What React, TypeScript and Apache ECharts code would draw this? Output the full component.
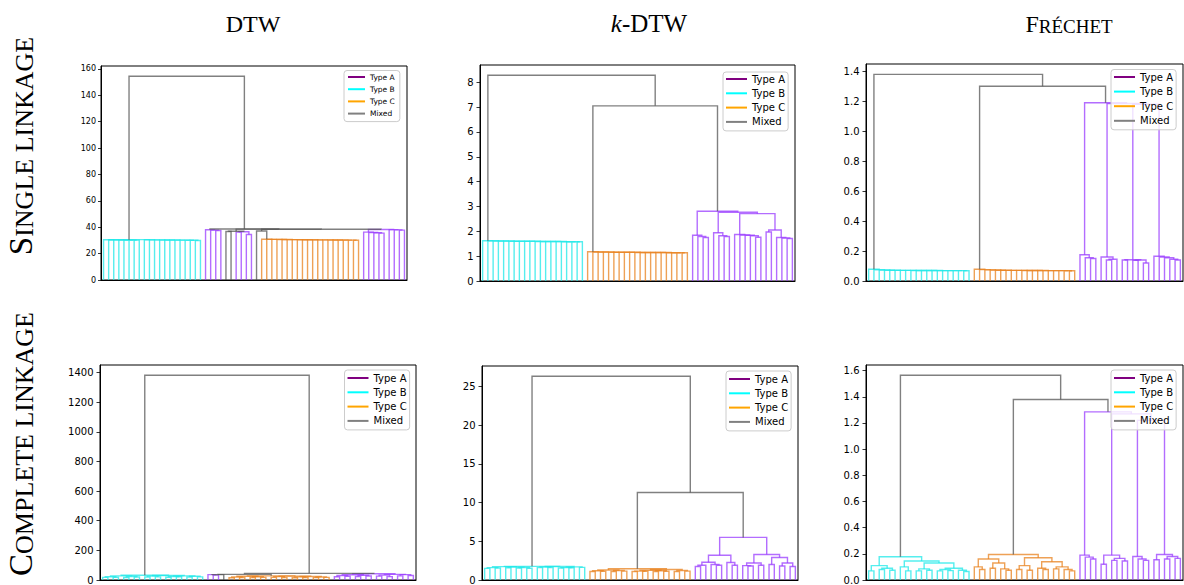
import React, { useEffect, useRef } from 'react';
import * as echarts from 'echarts';

// ---------- DATA ----------
const A = 'A', B = 'B', C = 'C';
type Tree = any;

// caterpillar (single-linkage chain): heights[0] is the highest merge, new leaf joins on the left
const chain = (type: string, heights: number[]): Tree => {
  let node: Tree = [heights[heights.length - 1], type, type];
  for (let i = heights.length - 2; i >= 0; i--) node = [heights[i], type, node];
  return node;
};

const typeNames: Record<string, string> = { A: 'Type A', B: 'Type B', C: 'Type C', M: 'Mixed' };
const typeOrder = ['A', 'B', 'C', 'M'];

// DTW – single linkage
const dtwSingleCyanL = [30.5, 30.4, 30.4, 30.3, 30.3, 30.2, 30.2];
const dtwSingleCyanR = [30.5, 30.4, 30.4, 30.3, 30.3, 30.3, 30.2, 30.2, 30.1, 30.1, 30.0];
const dtwSingleOrange = [30.9, 30.8, 30.8, 30.7, 30.7, 30.6, 30.6, 30.5, 30.5, 30.5, 30.4, 30.4, 30.4, 30.3, 30.3, 30.3, 30.2, 30.2, 30.1];
const dtwSinglePurpleA = [38.1, 37.8, 37.5];
const dtwSinglePurpleB = [36.3, 36.0, 35.8, 35.5];
const dtwSinglePurpleC = [38.2, 38.0, 37.8];
const dtwSingleTree: Tree = [154.5,
  [30.6, chain(B, dtwSingleCyanL), chain(B, dtwSingleCyanR)],
  [38.7, chain(A, dtwSinglePurpleA),
    [38.6,
      [37.0, [36.8, A, A, 'M'], [36.6, [36.3, A, A], [34.5, A, A]]],
      [38.5, [37.1, A, chain(C, dtwSingleOrange)],
        [38.3, chain(A, dtwSinglePurpleB), chain(A, dtwSinglePurpleC)]]]]];

// k-DTW – single linkage
const kdtwSingleCyan = [1.62, 1.62, 1.61, 1.61, 1.61, 1.6, 1.6, 1.6, 1.6, 1.6, 1.59, 1.59, 1.59, 1.59, 1.59, 1.58, 1.58, 1.58, 1.58];
const kdtwSingleOrange = [1.18, 1.17, 1.17, 1.17, 1.16, 1.16, 1.16, 1.16, 1.16, 1.15, 1.15, 1.15, 1.15, 1.15, 1.15, 1.14, 1.14, 1.14, 1.14];
const kdtwSingleTree: Tree = [8.28, chain(B, kdtwSingleCyan),
  [7.05, chain(C, kdtwSingleOrange),
    [2.81, chain(A, [1.84, 1.79, 1.75]),
      [2.77, chain(A, [1.94, 1.82, 1.79]),
        [2.71, chain(A, [1.87, 1.85, 1.84, 1.82, 1.76]),
          [2.05, [1.97, A, A], chain(A, [1.75, 1.73, 1.71])]]]]]];

// Fréchet – single linkage
const frechetSingleCyan = [0.078, 0.075, 0.073, 0.072, 0.072, 0.071, 0.071, 0.071, 0.070, 0.070, 0.070, 0.070, 0.070, 0.069, 0.069, 0.069, 0.069, 0.069, 0.068];
const frechetSingleOrange = [0.078, 0.076, 0.074, 0.073, 0.072, 0.072, 0.071, 0.071, 0.071, 0.070, 0.070, 0.070, 0.070, 0.069, 0.069, 0.069, 0.069, 0.068, 0.068];
const frechetSingleTree: Tree = [1.38, chain(B, frechetSingleCyan),
  [1.30, chain(C, frechetSingleOrange),
    [1.19, [0.175, A, [0.155, A, [0.15, A, A]]],
      [1.185, [0.16, A, [0.145, [0.14, A, A], A]],
        [1.18, [0.142, [0.14, A, A], [0.14, [0.138, A, A], [0.12, A, A]]],
          chain(A, [0.165, 0.16, 0.155, 0.145, 0.14])]]]]];

// DTW – complete linkage
const dtwCompleteTree: Tree = [1382,
  [32, [28, [22, [18, B, B], [19, B, B]], [24, [17, B, B], [20, B, B]]],
    [30, [26, [20, B, B], [21, B, B]], [28, [24, [19, B, B], [22, B, B]], [25, [20, B, B], [21, B, B]]]]],
  [44.8,
    [38, [36.5, [36, A, [33, A, A]], A, 'M'],
      [28, [25, [20, [15, C, C], [17, C, C]], [22, [16, C, C], [18, C, C]]],
        [26, [23, [18, C, C], [16, C, C]], [24, [21, [15, C, C], [17, C, C]], [20, [16, C, C], [18, C, C]]]]]],
    [42, [35, [30, [22, A, A], [25, A, A]], [32, [24, A, A], [27, A, A]]],
      [38, [33, [26, A, A], [23, A, A]], [36, [28, A, A], [30, A, A]]]]]];

// k-DTW – complete linkage
const kdtwCompleteTree: Tree = [26.3,
  [1.76,
    [1.72, [1.6, [1.5, B, B], [1.55, B, B]], [1.66, [1.58, B, B], [1.62, [1.55, B, B], [1.52, B, B]]]],
    [1.74, [1.68, [1.6, B, B], [1.62, B, B]], [1.7, [1.6, [1.55, B, B], [1.58, B, B]], [1.63, B, B]]]],
  [11.3,
    [1.45,
      [1.3, [1.2, [1.1, C, C], [1.12, C, C]], [1.22, [1.1, C, C], [1.15, C, C]]],
      [1.35, [1.25, [1.15, [1.1, C, C], [1.12, C, C]], [1.2, [1.1, C, C], [1.12, C, C]]], [1.22, [1.1, C, C], [1.15, C, C]]]],
    [5.5,
      [3.2, [2.3, [1.9, [1.75, A, A], A], [2.0, A, [1.9, A, A]]], [2.25, A, [1.9, A, A]]],
      [3.3, [2.2, [1.85, A, [1.8, A, A]], [1.9, A, A]], [2.9, [2.0, A, A], [2.2, [1.8, A, A], [1.75, A, A]]]]]]];

// Fréchet – complete linkage
const frechetCompleteTree: Tree = [1.565,
  [0.178,
    [0.11, [0.07, B, B], [0.09, [0.08, B, B], [0.075, B, B]]],
    [0.145, [0.1, B, [0.07, B, B]],
      [0.13, [0.085, [0.07, B, B], [0.075, B, B]], [0.09, [0.08, [0.07, B, B], [0.072, B, B]], [0.075, B, [0.065, B, B]]]]]],
  [1.38,
    [0.195,
      [0.16, [0.1, C, [0.08, C, C]], [0.13, [0.09, C, C], [0.085, C, [0.075, C, C]]]],
      [0.17, [0.11, [0.08, C, C], [0.075, C, C]], [0.14, [0.09, C, [0.08, C, C]], [0.1, [0.085, C, C], [0.08, C, [0.07, C, C]]]]]],
    [1.285, [0.19, A, [0.175, A, [0.16, A, A]]],
      [1.27, [0.19, [0.12, A, A], [0.165, [0.15, A, A], [0.145, A, A]]],
        [1.22, [0.18, A, [0.16, A, [0.15, A, A]]],
          [0.195, [0.155, A, A], [0.18, [0.16, A, A], [0.165, A, A]]]]]]]];

const ticksDtwSingle = [0, 20, 40, 60, 80, 100, 120, 140, 160];
const ticksKdtwSingle = [0, 1, 2, 3, 4, 5, 6, 7, 8];
const ticksFrechetSingle = [0, 0.2, 0.4, 0.6, 0.8, 1.0, 1.2, 1.4];
const ticksDtwComplete = [0, 200, 400, 600, 800, 1000, 1200, 1400];
const ticksKdtwComplete = [0, 5, 10, 15, 20, 25];
const ticksFrechetComplete = [0, 0.2, 0.4, 0.6, 0.8, 1.0, 1.2, 1.4, 1.6];

const columnTitles = ['DTW', 'k-DTW', 'FRÉCHET'];
const rowTitles = ['SINGLE LINKAGE', 'COMPLETE LINKAGE'];

// ---------- STYLE / LAYOUT ----------
const lineColors: Record<string, string> = { A: '#9a3cff', B: '#1ee8e8', C: '#e8821e', M: '#555555' };
const legendColors: Record<string, string> = { A: '#800080', B: '#00ffff', C: '#ffa500', M: '#808080' };

const panels = [
  { tree: dtwSingleTree, ticks: ticksDtwSingle, dec: 0, grid: { left: 101, top: 66, width: 306, height: 214 }, font: 8, legend: { left: 344, top: 70.5, fs: 7.5, iw: 17, gap: 4.2, lh: 8, pad: [2.5, 5, 4, 4] } },
  { tree: kdtwSingleTree, ticks: ticksKdtwSingle, dec: 0, grid: { left: 480, top: 65, width: 315, height: 216 }, font: 10, legend: { left: 723, top: 72, fs: 10, iw: 21, gap: 4.3, lh: 10, pad: [2, 3, 4, 3] } },
  { tree: frechetSingleTree, ticks: ticksFrechetSingle, dec: 1, grid: { left: 866, top: 64, width: 317, height: 217 }, font: 10, legend: { left: 1111, top: 69.5, fs: 10, iw: 21, gap: 4.6, lh: 10, pad: [2.5, 3, 4, 3] } },
  { tree: dtwCompleteTree, ticks: ticksDtwComplete, dec: 0, grid: { left: 100, top: 365, width: 316, height: 217 }, font: 10, legend: { left: 344.5, top: 370, fs: 10, iw: 21, gap: 4.3, lh: 10, pad: [3, 3, 4, 3] } },
  { tree: kdtwCompleteTree, ticks: ticksKdtwComplete, dec: 0, grid: { left: 482, top: 366, width: 316, height: 216 }, font: 10, legend: { left: 726, top: 371, fs: 10, iw: 21, gap: 4.3, lh: 10, pad: [3, 3, 4, 3] } },
  { tree: frechetCompleteTree, ticks: ticksFrechetComplete, dec: 1, grid: { left: 866, top: 365, width: 317, height: 217 }, font: 10, legend: { left: 1111, top: 370, fs: 10, iw: 21, gap: 4.3, lh: 10, pad: [3, 3, 4, 3] } },
];

function layoutTree(tree: Tree) {
  let idx = 0;
  const links: Record<string, number[][][]> = { A: [], B: [], C: [], M: [] };
  const walk = (t: Tree): { x: number; h: number; types: Set<string> } => {
    if (typeof t === 'string') {
      const x = 5 + 10 * idx++;
      return { x, h: 0, types: new Set([t]) };
    }
    const [h, l, r, force] = t;
    const L = walk(l);
    const R = walk(r);
    const types = new Set<string>([...L.types, ...R.types]);
    if (force) types.add(force);
    const key = types.size === 1 ? [...types][0] : 'M';
    links[key].push([[L.x, L.h], [L.x, h], [R.x, h], [R.x, R.h]]);
    return { x: (L.x + R.x) / 2, h, types };
  };
  walk(tree);
  return { links, n: idx };
}

const serif = 'Liberation Serif';

export default function App() {
  const ref = useRef<HTMLDivElement>(null);
  useEffect(() => {
    if (!ref.current) return;
    const chart = echarts.init(ref.current, undefined, { renderer: 'svg' });
    const grid: any[] = [];
    const xAxis: any[] = [];
    const yAxis: any[] = [];
    const series: any[] = [];
    const legend: any[] = [];
    panels.forEach((p, i) => {
      const { links, n } = layoutTree(p.tree);
      grid.push({ ...p.grid, show: true, borderColor: '#000', borderWidth: 1, backgroundColor: 'transparent', containLabel: false });
      xAxis.push({
        gridIndex: i, type: 'value', min: 0, max: 10 * n,
        axisLine: { show: true, lineStyle: { color: '#000', width: 1 } },
        axisTick: { show: false }, axisLabel: { show: false }, splitLine: { show: false },
      });
      yAxis.push({
        gridIndex: i, type: 'value', min: 0, max: p.tree[0] * 1.05,
        axisLine: { show: true, lineStyle: { color: '#000', width: 1 } },
        splitLine: { show: false },
        axisTick: { show: true, length: p.font === 8 ? 3 : 3.5, lineStyle: { color: '#000', width: 0.8 }, customValues: p.ticks },
        axisLabel: {
          customValues: p.ticks, fontSize: p.font, fontFamily: 'DejaVu Sans', color: '#000',
          margin: p.font === 8 ? 5 : 6.5,
          formatter: (v: number) => v.toFixed(p.dec),
        },
      });
      typeOrder.forEach((k) => {
        series.push({
          type: 'lines', name: typeNames[k], coordinateSystem: 'cartesian2d',
          xAxisIndex: i, yAxisIndex: i, polyline: true, silent: true,
          lineStyle: { color: lineColors[k], width: 1.4, opacity: 0.75 },
          data: links[k].map((coords) => ({ coords })),
        });
      });
      const lg = p.legend;
      legend.push({
        orient: 'vertical', left: lg.left, top: lg.top, icon: 'rect',
        itemWidth: lg.iw, itemHeight: 2, itemGap: lg.gap, padding: lg.pad,
        backgroundColor: 'rgba(255,255,255,0.8)', borderColor: '#cccccc', borderWidth: 1, borderRadius: 3,
        selectedMode: false,
        textStyle: { fontSize: lg.fs, fontFamily: 'DejaVu Sans', color: '#000', lineHeight: lg.lh },
        data: typeOrder.map((k) => ({ name: typeNames[k], itemStyle: { color: legendColors[k], borderWidth: 0, opacity: 1 } })),
      });
    });

    const bigSmall = (text: string, big: number, small: number) => ({
      text: `{a|${text[0]}}{b|${text.slice(1)}}`,
      rich: {
        a: { fontSize: big, fontFamily: serif, fill: '#000', verticalAlign: 'bottom' },
        b: { fontSize: small, fontFamily: serif, fill: '#000', verticalAlign: 'bottom' },
      },
      align: 'center', verticalAlign: 'middle',
    });

    const graphic: any[] = [
      { type: 'text', x: 253, y: 23.5, style: { text: columnTitles[0], fontSize: 24, fontFamily: serif, fill: '#000', align: 'center', verticalAlign: 'middle' } },
      {
        type: 'text', x: 649, y: 23.5,
        style: {
          text: `{i|${columnTitles[1][0]}}{r|${columnTitles[1].slice(1)}}`,
          rich: {
            i: { fontSize: 25, fontFamily: serif, fontStyle: 'italic', fill: '#000' },
            r: { fontSize: 25, fontFamily: serif, fill: '#000' },
          },
          align: 'center', verticalAlign: 'middle',
        },
      },
      { type: 'text', x: 1069, y: 23.5, style: bigSmall(columnTitles[2], 24, 19) },
      { type: 'text', x: 21, y: 146, rotation: Math.PI / 2, style: bigSmall(rowTitles[0], 33, 26) },
      { type: 'text', x: 21, y: 444, rotation: Math.PI / 2, style: bigSmall(rowTitles[1], 33, 26) },
    ];

    chart.setOption({ animation: false, backgroundColor: '#fff', grid, xAxis, yAxis, series, legend, graphic });
    return () => chart.dispose();
  }, []);
  return <div ref={ref} style={{ position: 'absolute', left: 0, top: 0, width: 1184, height: 585 }} />;
}
